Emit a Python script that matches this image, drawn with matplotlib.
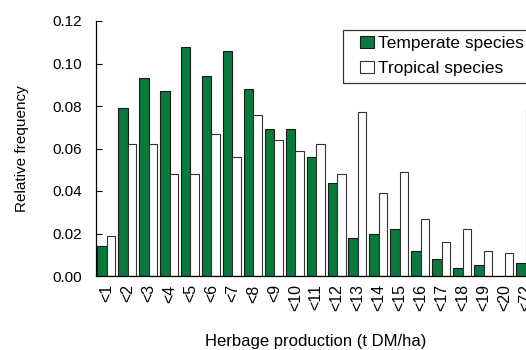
import matplotlib
matplotlib.use("Agg")
import matplotlib.pyplot as plt
from matplotlib.patches import Rectangle
import numpy as np

# Relative frequency of herbage production classes (t DM/ha)
classes = ["<1", "<2", "<3", "<4", "<5", "<6", "<7", "<8", "<9", "<10", "<11",
           "<12", "<13", "<14", "<15", "<16", "<17", "<18", "<19", "<20", "<72"]
temperate = [0.014, 0.079, 0.093, 0.087, 0.108, 0.094, 0.106, 0.088, 0.069,
             0.069, 0.056, 0.044, 0.018, 0.020, 0.022, 0.012, 0.008, 0.004,
             0.005, 0.000, 0.006]
tropical = [0.019, 0.062, 0.062, 0.048, 0.048, 0.067, 0.056, 0.076, 0.064,
            0.059, 0.062, 0.048, 0.077, 0.039, 0.049, 0.027, 0.016, 0.022,
            0.012, 0.011, 0.078]

GREEN = "#087a3c"


def main():
    plt.rcParams["font.family"] = ["Liberation Sans", "DejaVu Sans"]

    fig = plt.figure(figsize=(5.26, 3.5), dpi=100)
    # the plot area runs past the right edge of the figure
    ax = fig.add_axes([96 / 526, 1 - 276 / 350, 440.2 / 526, 255 / 350])

    x = np.arange(len(classes))
    ax.bar(x, temperate, width=-0.46, align="edge", color=GREEN,
           edgecolor="#1a1a1a", linewidth=0.8, label="Temperate species")
    ax.bar(x, tropical, width=0.40, align="edge", color="white",
           edgecolor="#333333", linewidth=0.8, label="Tropical species")

    ax.set_xlim(-0.51, 20.5)
    ax.set_ylim(0, 0.12)
    ax.set_yticks(np.arange(0, 0.121, 0.02))
    ax.set_yticklabels([f"{v:.2f}" for v in np.arange(0, 0.121, 0.02)])
    ax.set_xticks(x)
    ax.set_xticklabels(classes, rotation=90)

    ax.tick_params(axis="y", direction="in", length=4, width=0.8,
                   pad=10, labelsize=11)
    ax.tick_params(axis="x", length=0, pad=6, labelsize=11.5)
    for side in ("top", "right"):
        ax.spines[side].set_visible(False)
    for side in ("left", "bottom"):
        ax.spines[side].set_linewidth(0.9)

    ax.set_ylabel("Relative frequency", fontsize=11, labelpad=17)
    ax.set_xlabel("Herbage production (t DM/ha)", fontsize=12, labelpad=16)

    # legend box, open to the right edge
    fig.patches.append(Rectangle((343 / 526, 1 - 83 / 350), 200 / 526,
                                 53 / 350, transform=fig.transFigure,
                                 facecolor="white", edgecolor="#333333",
                                 linewidth=0.9, zorder=5))
    leg = fig.legend(loc="center left", bbox_to_anchor=(360 / 526, 1 - 56 / 350),
                     frameon=False, fontsize=12.5, handlelength=0.78,
                     handleheight=0.72, handletextpad=0.25, labelspacing=0.57,
                     borderpad=0, borderaxespad=0)
    leg.set_zorder(6)

    fig.savefig("out.png", dpi=100)


if __name__ == "__main__":
    main()
